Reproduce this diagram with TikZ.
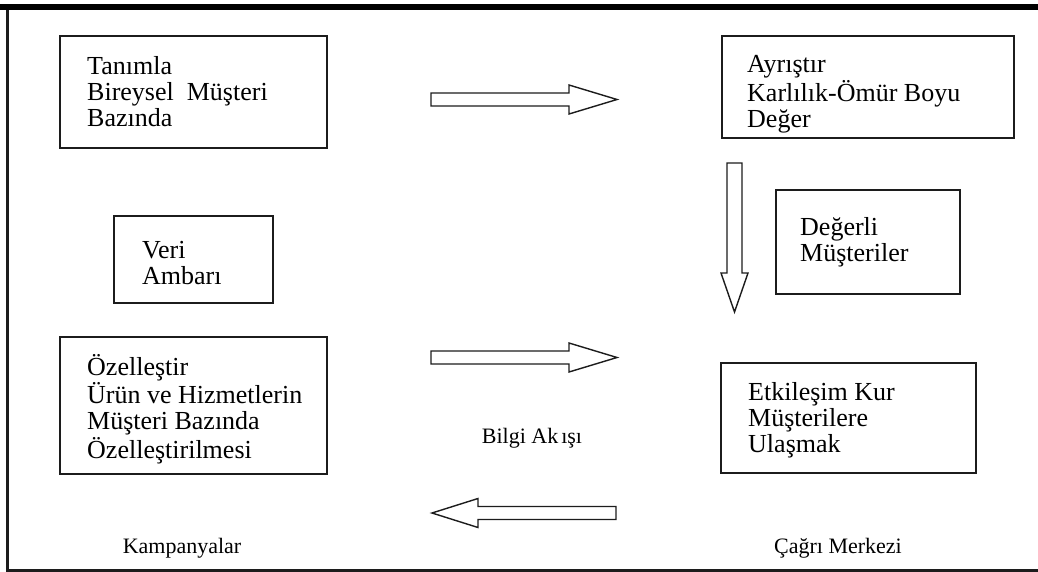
\documentclass[tikz,border=0pt]{standalone}
\usepackage{fontspec}
\setmainfont{Liberation Serif}
\usetikzlibrary{calc}

\definecolor{ink}{HTML}{1C1C1C}

\tikzset{
  box/.style={draw=ink, line width=1.8pt, fill=white, inner sep=0pt, anchor=north west},
  txt/.style={text=black, inner sep=0pt, anchor=base west,
              font=\fontsize{26}{26}\selectfont},
  caption/.style={text=black, inner sep=0pt, anchor=base,
              font=\fontsize{22}{22}\selectfont},
  blockarrow/.style={draw=ink, line width=1.4pt, fill=white, line join=miter},
}

\newcommand{\boxlines}[1]{\begin{tabular}[t]{@{}l@{}}#1\end{tabular}}

\begin{document}
\begin{tikzpicture}[x=1pt, y=-1pt]
  \useasboundingbox (0,0) rectangle (1038,572);

  % outer frame: heavy top rule, left and bottom rules
  \fill[black] (0,4) rectangle (1038,10.5);
  \draw[ink, line width=2.2pt] (7.5,10) -- (7.5,570.5) -- (1038,570.5);

  % boxes
  \node[box, minimum width=267, minimum height=112] (tanimla) at (59,35) {};
  \node[box, minimum width=292, minimum height=102] (ayristir) at (721,35) {};
  \node[box, minimum width=184, minimum height=104] (degerli) at (775,189) {};
  \node[box, minimum width=159, minimum height=87]  (veri) at (113,215) {};
  \node[box, minimum width=267, minimum height=137] (ozel) at (59,336) {};
  \node[box, minimum width=255, minimum height=110] (etkilesim) at (720,362) {};

  % box texts
  \node[txt] (tanimlaT) at ($(tanimla.north west)+(28,40)$)
    {\boxlines{Tanımla\\Bireysel~~Müşteri\\Bazında}};
  \node[txt] (ayristirT) at ($(ayristir.north west)+(26,38)$)
    {\boxlines{Ayrıştır\\Karlılık-Ömür Boyu\\Değer}};
  \node[txt] (degerliT) at ($(degerli.north west)+(25,46)$)
    {\boxlines{Değerli\\Müşteriler}};
  \node[txt] (veriT) at ($(veri.north west)+(29,43)$)
    {\boxlines{Veri\\Ambarı}};
  \node[txt] (ozelT) at ($(ozel.north west)+(28,39)$)
    {\boxlines{Özelleştir\\Ürün ve Hizmetlerin\\Müşteri Bazında\\Özelleştirilmesi}};
  \node[txt] (etkilesimT) at ($(etkilesim.north west)+(28,38)$)
    {\boxlines{Etkileşim Kur\\Müşterilere\\Ulaşmak}};

  % free-standing captions
  \node[caption] (bilgi) at (532,443) {Bilgi Ak\hspace{3pt}ışı};
  \node[caption] (kampanya) at (182,553) {Kampanyalar};
  \node[caption] (cagri) at (838,553) {Çağrı Merkezi};

  % block arrows
  \coordinate (a1) at (431,99.5);
  \draw[blockarrow] ($(a1)+(0,-6.5)$) -- ++(138,0) -- ++(0,-8) -- (617,99.5)
    -- ($(a1)+(138,14.5)$) -- ++(0,-8) -- ($(a1)+(0,6.5)$) -- cycle;

  \coordinate (a2) at (431,357.5);
  \draw[blockarrow] ($(a2)+(0,-6.5)$) -- ++(138,0) -- ++(0,-8) -- (617,357.5)
    -- ($(a2)+(138,14.5)$) -- ++(0,-8) -- ($(a2)+(0,6.5)$) -- cycle;

  \coordinate (a3) at (734.5,163);
  \draw[blockarrow] ($(a3)+(-7.5,0)$) -- ++(0,110) -- ++(-6,0) -- (734.5,312)
    -- ($(a3)+(13.5,110)$) -- ++(-6,0) -- ($(a3)+(7.5,0)$) -- cycle;

  \coordinate (a4) at (616,513);
  \draw[blockarrow] ($(a4)+(0,-6.5)$) -- ++(-138,0) -- ++(0,-8) -- (432,513)
    -- ($(a4)+(-138,14.5)$) -- ++(0,-8) -- ($(a4)+(0,6.5)$) -- cycle;
\end{tikzpicture}
\end{document}
